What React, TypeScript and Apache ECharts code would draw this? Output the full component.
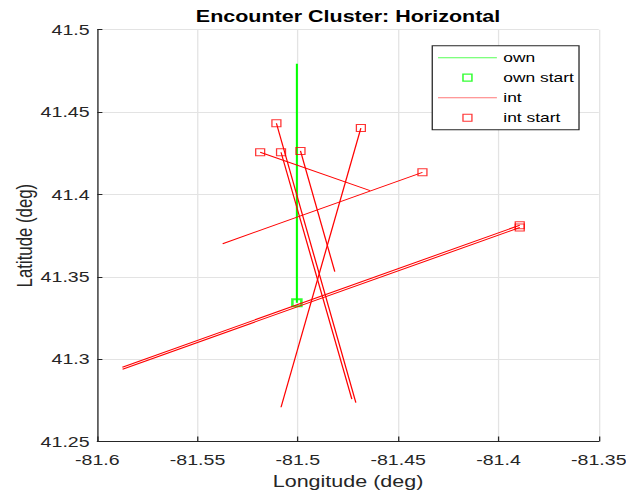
import React, { useEffect, useRef } from "react";
import * as echarts from "echarts";

// Ownship track (lon/lat), first point is the start
const ownLon = [-81.5005, -81.5005];
const ownLat = [41.3343, 41.4793];

// Intruder tracks: start and end positions
const intStartLon = [-81.5107, -81.5084, -81.5188, -81.4987, -81.4686, -81.4379, -81.3894, -81.3894];
const intStartLat = [41.4432, 41.4256, 41.4256, 41.4264, 41.4403, 41.4134, 41.3813, 41.3799];
const intEndLon = [-81.4711, -81.4731, -81.464, -81.4816, -81.5084, -81.5375, -81.5875, -81.5874];
const intEndLat = [41.2736, 41.2757, 41.4023, 41.3531, 41.2708, 41.3701, 41.2951, 41.2939];

// Axis ranges and tick steps
const lonTicks = [-81.6, -81.55, -81.5, -81.45, -81.4, -81.35];
const latTicks = [41.25, 41.3, 41.35, 41.4, 41.45, 41.5];

const titleText = "Encounter Cluster: Horizontal";
const xName = "Longitude (deg)";
const yName = "Latitude (deg)";

// The figure is drawn narrower and stretched horizontally
const STRETCH = 1.28;
const W = 489;
const H = 492;

const FONT = "Liberation Sans, Arial, Helvetica, sans-serif";
const AXIS_COLOR = "#262626";
const GREEN = "#00ff00";
const RED = "#ff0000";
const SQUARE = "path://M0 0H10V10H0Z";
const BAR = "path://M0 0H46V1H0Z";

export default function App() {
  const ref = useRef<HTMLDivElement>(null);

  useEffect(() => {
    if (!ref.current) return;
    const chart = echarts.init(ref.current, null, { renderer: "svg" });

    const fmt = (v: number) => String(+v.toFixed(2));

    const intLines = intStartLon.map((lon, i) => ({
      name: "int",
      type: "line",
      data: [
        [lon, intStartLat[i]],
        [intEndLon[i], intEndLat[i]],
      ],
      symbol: "none",
      lineStyle: { color: RED, width: 1 },
      itemStyle: { color: RED },
      z: 3,
    }));

    const option: any = {
      animation: false,
      backgroundColor: "#ffffff",
      graphic: [
        {
          type: "text",
          x: 271.9,
          y: 16,
          style: {
            text: titleText,
            fontFamily: FONT,
            fontSize: 16.8,
            fontWeight: "bold",
            fill: "#000000",
            textAlign: "center",
            textVerticalAlign: "middle",
          },
        },
      ],
      grid: { left: 76, right: 21.2, top: 29.7, bottom: 50.5, outerBoundsMode: "none", containLabel: false },
      legend: {
        orient: "vertical",
        left: 337.7,
        top: 45.7,
        selectedMode: false,
        backgroundColor: "#ffffff",
        borderColor: AXIS_COLOR,
        borderWidth: 1,
        borderRadius: 0,
        padding: [4, 4, 4, 4.5],
        itemWidth: 46,
        itemHeight: 7,
        itemGap: 4,
        textStyle: { fontFamily: FONT, fontSize: 13.6, color: "#000000", lineHeight: 16 },
        data: [
          { name: "own", icon: BAR, itemStyle: { color: "#55ff55", borderWidth: 0 } },
          {
            name: "own start",
            icon: SQUARE,
            itemStyle: { color: "rgba(255,255,255,0)", borderColor: GREEN, borderWidth: 1.2 },
          },
          { name: "int", icon: BAR, itemStyle: { color: "#ff7777", borderWidth: 0 } },
          {
            name: "int start",
            icon: SQUARE,
            itemStyle: { color: "rgba(255,255,255,0)", borderColor: RED, borderWidth: 1 },
          },
        ],
      },
      xAxis: {
        type: "value",
        min: lonTicks[0],
        max: lonTicks[lonTicks.length - 1],
        interval: 0.05,
        name: xName,
        nameLocation: "middle",
        nameGap: 31,
        nameMoveOverlap: false,
        nameTextStyle: { fontFamily: FONT, fontSize: 16.8, color: AXIS_COLOR },
        axisLine: { show: true, onZero: false, lineStyle: { color: AXIS_COLOR, width: 1 } },
        axisTick: { show: true, inside: true, length: 5, lineStyle: { color: AXIS_COLOR } },
        axisLabel: { fontFamily: FONT, fontSize: 15.3, color: AXIS_COLOR, margin: 11, formatter: fmt },
        splitLine: { show: true, lineStyle: { color: "#e3e3e3", width: 1 } },
      },
      yAxis: {
        type: "value",
        min: latTicks[0],
        max: latTicks[latTicks.length - 1],
        interval: 0.05,
        name: yName,
        nameLocation: "middle",
        nameGap: 48,
        nameMoveOverlap: false,
        nameTextStyle: { fontFamily: FONT, fontSize: 16.8, color: AXIS_COLOR },
        axisLine: { show: true, onZero: false, lineStyle: { color: AXIS_COLOR, width: 1 } },
        axisTick: { show: true, inside: true, length: 4, lineStyle: { color: AXIS_COLOR } },
        axisLabel: { fontFamily: FONT, fontSize: 15.3, color: AXIS_COLOR, margin: 6, formatter: fmt },
        splitLine: { show: true, lineStyle: { color: "#e3e3e3", width: 1 } },
      },
      series: [
        {
          name: "own",
          type: "line",
          data: ownLon.map((lon, i) => [lon, ownLat[i]]),
          symbol: "none",
          lineStyle: { color: GREEN, width: 1.6 },
          itemStyle: { color: GREEN },
          z: 2,
        },
        {
          name: "own start",
          type: "scatter",
          data: [[ownLon[0], ownLat[0]]],
          symbol: "rect",
          symbolSize: 7,
          itemStyle: { color: "rgba(255,255,255,0)", borderColor: GREEN, borderWidth: 2 },
          z: 2,
        },
        ...intLines,
        {
          name: "int start",
          type: "scatter",
          data: intStartLon.map((lon, i) => [lon, intStartLat[i]]),
          symbol: "rect",
          symbolSize: 7,
          itemStyle: { color: "rgba(255,255,255,0)", borderColor: RED, borderWidth: 1 },
          z: 4,
        },
      ],
    };

    chart.setOption(option);
    return () => chart.dispose();
  }, []);

  return (
    <div
      ref={ref}
      style={{
        position: "absolute",
        left: 0,
        top: 0,
        width: W,
        height: H,
        transform: `scaleX(${STRETCH})`,
        transformOrigin: "0 0",
      }}
    />
  );
}
